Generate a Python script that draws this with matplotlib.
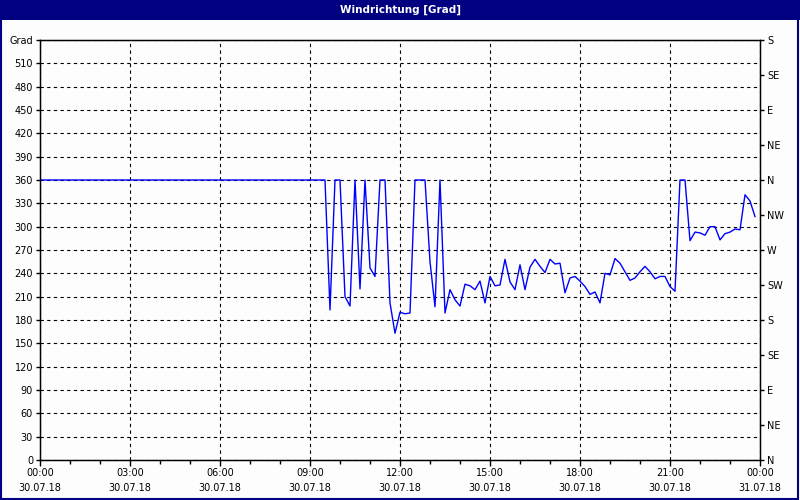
import numpy as np
import pandas as pd
import matplotlib
matplotlib.use("Agg")
import matplotlib.pyplot as plt
from matplotlib.patches import Rectangle

# data (10 minute values, flat 360 before 09:30)
times = ["00:00", "09:20", "09:30", "09:40", "09:50", "10:00", "10:10", "10:20",
         "10:30", "10:40", "10:50", "11:00", "11:10", "11:20", "11:30", "11:40",
         "11:50", "12:00", "12:10", "12:20", "12:30", "12:40", "12:50", "13:00",
         "13:10", "13:20", "13:30", "13:40", "13:50", "14:00", "14:10", "14:20",
         "14:30", "14:40", "14:50", "15:00", "15:10", "15:20", "15:30", "15:40",
         "15:50", "16:00", "16:10", "16:20", "16:30", "16:40", "16:50", "17:00",
         "17:10", "17:20", "17:30", "17:40", "17:50", "18:00", "18:10", "18:20",
         "18:30", "18:40", "18:50", "19:00", "19:10", "19:20", "19:30", "19:40",
         "19:50", "20:00", "20:10", "20:20", "20:30", "20:40", "20:50", "21:00",
         "21:10", "21:20", "21:30", "21:40", "21:50", "22:00", "22:10", "22:20",
         "22:30", "22:40", "22:50", "23:00", "23:10", "23:20", "23:30", "23:40",
         "23:50"]
grad = [360, 360, 360, 193, 360, 360, 210, 198,
        360, 220, 360, 247, 236, 360, 360, 202,
        163, 190, 188, 189, 360, 360, 360, 255,
        197, 360, 189, 219, 206, 198, 226, 224,
        219, 230, 202, 236, 224, 225, 258, 229,
        219, 251, 219, 248, 258, 249, 241, 258,
        252, 253, 215, 234, 236, 230, 223, 213,
        216, 202, 240, 238, 259, 253, 242, 231,
        234, 242, 249, 242, 233, 236, 236, 223,
        217, 360, 360, 282, 293, 292, 289, 300,
        300, 283, 291, 293, 297, 296, 341, 333,
        313]

xtick_hours = [0, 3, 6, 9, 12, 15, 18, 21, 24]
xtick_labels = ["00:00\n30.07.18", "03:00\n30.07.18", "06:00\n30.07.18",
                "09:00\n30.07.18", "12:00\n30.07.18", "15:00\n30.07.18",
                "18:00\n30.07.18", "21:00\n30.07.18", "00:00\n31.07.18"]
left_ticks = list(range(0, 541, 30))
left_labels = [str(v) for v in range(0, 511, 30)] + ["Grad"]
right_ticks = list(range(0, 541, 45))
right_labels = ["N", "NE", "E", "SE", "S", "SW", "W", "NW", "N", "NE", "E", "SE", "S"]

td = pd.to_timedelta([t + ":00" for t in times])
hours = td.total_seconds() / 3600.0

plt.rcParams['font.family'] = ['DejaVu Sans']
fig = plt.figure(figsize=(8, 5), dpi=100, facecolor="#fcfdfc")

# title bar and frame
navy = "#000080"
fig.patches.append(Rectangle((0, 0.96), 1, 0.04, transform=fig.transFigure,
                             facecolor=navy, edgecolor="none", zorder=0))
fig.patches.append(Rectangle((0.001, 0.002), 0.997, 0.996, transform=fig.transFigure,
                             facecolor="none", edgecolor=navy, lw=1.5, zorder=1))
fig.text(0.5, 0.981, "Windrichtung [Grad]", color="white", ha="center", va="center",
         fontsize=7.5, fontweight="bold")

ax = fig.add_axes([0.05, 0.08, 0.9, 0.84])
ax.set_facecolor("#fcfdfc")
ax.plot(hours, grad, color="#0000ff", lw=1)

ax.set_xlim(0, 24)
ax.set_ylim(0, 540)
ax.set_xticks(xtick_hours)
ax.set_xticklabels(xtick_labels, fontsize=7, linespacing=1.55)
ax.set_xticks(range(0, 25), minor=True)
ax.set_yticks(left_ticks)
ax.set_yticklabels(left_labels, fontsize=7)
ax.tick_params(axis="x", which="major", length=4, width=1, pad=2)
ax.tick_params(axis="x", which="minor", length=3, width=1)
ax.tick_params(axis="y", length=3, width=1, pad=2)
ax.grid(True, which="major", color="black", linestyle=(0, (3, 3)), lw=0.8)
for s in ax.spines.values():
    s.set_linewidth(1)

ax2 = ax.twinx()
ax2.set_ylim(0, 540)
ax2.set_yticks(right_ticks)
ax2.set_yticklabels(right_labels, fontsize=7)
ax2.tick_params(axis="y", length=3, width=1, pad=2)

fig.savefig("out.png", dpi=100, facecolor=fig.get_facecolor())
